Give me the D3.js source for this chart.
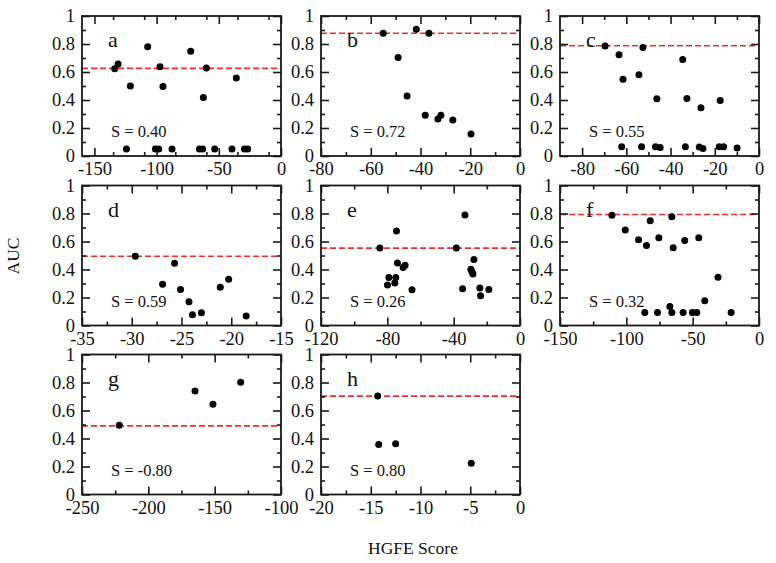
<!DOCTYPE html>
<html>
<head>
<meta charset="utf-8">
<script src="https://cdn.jsdelivr.net/npm/d3@7/dist/d3.min.js"></script>
<style>
  html, body { margin: 0; padding: 0; background: #fff; }
  svg { display: block; }
  text { font-family: "Liberation Serif", "DejaVu Serif", serif; fill: #111; }
</style>
</head>
<body>
<svg id="chart" width="776" height="563"></svg>
<script>
// ---------------- data ----------------
const panelIds = ["a", "b", "c", "d", "e", "f", "g", "h"];
const spearmanLabels = ["S = 0.40", "S = 0.72", "S = 0.55", "S = 0.59", "S = 0.26", "S = 0.32", "S = -0.80", "S = 0.80"];
const referenceAUC = [0.626, 0.877, 0.787, 0.495, 0.553, 0.793, 0.49, 0.703];
const xDomains = [[-160, 0], [-80, 0], [-90, 0], [-35, -15], [-120, 0], [-150, 0], [-250, -100], [-20, 0]];
const xMajorTicks = [
  [-150, -100, -50, 0],
  [-80, -60, -40, -20, 0],
  [-80, -60, -40, -20, 0],
  [-35, -30, -25, -20, -15],
  [-120, -80, -40, 0],
  [-150, -100, -50, 0],
  [-250, -200, -150, -100],
  [-20, -15, -10, -5, 0]
];
const xMinorStep = [25, 10, 10, 2.5, 20, 25, 25, 2.5];
const yTicks = [0, 0.2, 0.4, 0.6, 0.8, 1];
const yTickLabels = ["0", "0.2", "0.4", "0.6", "0.8", "1"];
const yMinorTicks = [0.1, 0.3, 0.5, 0.7, 0.9];

const hgfeA = [-133.7, -131, -121.1, -124.3, -107.2, -101, -98.3, -97.3, -94.9, -87.6, -72.6, -65.6, -63, -62.4, -60, -53.3, -39.4, -35.9, -29.4, -26.8];
const aucA  = [0.624, 0.657, 0.50, 0.05, 0.78, 0.05, 0.05, 0.638, 0.497, 0.05, 0.749, 0.05, 0.05, 0.418, 0.629, 0.05, 0.05, 0.558, 0.05, 0.05];

const hgfeB = [-55, -41.7, -36.6, -49, -45.4, -38.1, -33, -31.8, -27, -19.7];
const aucB  = [0.877, 0.905, 0.877, 0.704, 0.428, 0.291, 0.265, 0.291, 0.258, 0.158];

const hgfeC = [-69.6, -63.3, -61.5, -62.1, -54.3, -52.5, -53.1, -46.2, -46.8, -44.7, -34.5, -32.6, -33.3, -27, -26.25, -25.35, -17.55, -18, -16, -9.9];
const aucC  = [0.785, 0.723, 0.548, 0.066, 0.58, 0.775, 0.066, 0.409, 0.066, 0.061, 0.69, 0.411, 0.066, 0.064, 0.345, 0.054, 0.397, 0.066, 0.066, 0.057];

const hgfeD = [-29.64, -26.9, -25.7, -25.1, -24.25, -23.9, -23.0, -21.1, -20.26, -18.5];
const aucD  = [0.495, 0.294, 0.445, 0.258, 0.17, 0.077, 0.091, 0.273, 0.33, 0.067];

const hgfeE = [-84.5, -79.9, -79.1, -75.5, -74.9, -74.5, -73.9, -70.5, -69.3, -65.1, -38.4, -34.6, -33.2, -27.8, -29.6, -29, -28.4, -24.2, -23.8, -18.8];
const aucE  = [0.553, 0.29, 0.342, 0.304, 0.342, 0.675, 0.447, 0.414, 0.431, 0.256, 0.553, 0.263, 0.79, 0.471, 0.402, 0.385, 0.368, 0.268, 0.213, 0.258];

const hgfeF = [-110.9, -100.8, -90.8, -84.8, -86.1, -82, -76.5, -75.5, -67.2, -65.7, -65.7, -64.7, -57.2, -56, -50.2, -46.9, -45.4, -40.9, -30.9, -21];
const aucF  = [0.788, 0.683, 0.612, 0.571, 0.093, 0.748, 0.093, 0.626, 0.136, 0.776, 0.093, 0.555, 0.093, 0.607, 0.093, 0.093, 0.626, 0.176, 0.345, 0.093];

const hgfeG = [-221.9, -164.8, -151.3, -130.4];
const aucG  = [0.494, 0.74, 0.644, 0.802];

const hgfeH = [-14.3, -14.2, -12.5, -4.9];
const aucH  = [0.704, 0.358, 0.363, 0.224];

const hgfeSeries = [hgfeA, hgfeB, hgfeC, hgfeD, hgfeE, hgfeF, hgfeG, hgfeH];
const aucSeries  = [aucA, aucB, aucC, aucD, aucE, aucF, aucG, aucH];

// ---------------- layout ----------------
const colLeft = [82, 321, 560];
const rowTop = [16, 185.5, 354.5];
const W = 199, H = 140;
const majorLen = 8, minorLen = 4;
const serif = '"Liberation Serif", "DejaVu Serif", serif';

const svg = d3.select("#chart");

panelIds.forEach((id, i) => {
  const col = i % 3, row = Math.floor(i / 3);
  const g = svg.append("g").attr("transform", `translate(${colLeft[col]},${rowTop[row]})`);
  const x = d3.scaleLinear().domain(xDomains[i]).range([0, W]);
  const y = d3.scaleLinear().domain([0, 1]).range([H, 0]);

  const dom = xDomains[i];
  const step = xMinorStep[i];
  const xMinor = d3.range(dom[0], dom[1] + step / 2, step)
    .filter(v => !xMajorTicks[i].some(m => Math.abs(m - v) < 1e-9) && v > dom[0] + 1e-9 && v < dom[1] - 1e-9);

  // red dashed reference line
  g.append("line")
    .attr("x1", 0).attr("x2", W)
    .attr("y1", y(referenceAUC[i])).attr("y2", y(referenceAUC[i]))
    .attr("stroke", "#f02e2e").attr("stroke-width", 1.6)
    .attr("stroke-dasharray", "6,3");

  const styleAxis = sel => {
    sel.attr("font-family", serif).attr("font-size", 18.5);
    sel.select(".domain").remove();
    sel.selectAll(".tick line").attr("stroke", "#1a1a1a").attr("stroke-width", 1.6);
    sel.selectAll(".tick text").style("font-family", serif).style("font-size", "18.5px").attr("fill", "#111");
  };

  // bottom axis with labels
  g.append("g").attr("transform", `translate(0,${H})`)
    .call(d3.axisBottom(x).tickValues(xMajorTicks[i]).tickFormat(d => String(d)).tickSizeInner(-majorLen).tickSizeOuter(0).tickPadding(6))
    .call(styleAxis);
  g.append("g").attr("transform", `translate(0,${H})`)
    .call(d3.axisBottom(x).tickValues(xMinor).tickFormat("").tickSizeInner(-minorLen).tickSizeOuter(0))
    .call(styleAxis);
  // top axis
  g.append("g")
    .call(d3.axisTop(x).tickValues(xMajorTicks[i]).tickFormat("").tickSizeInner(-majorLen).tickSizeOuter(0))
    .call(styleAxis);
  g.append("g")
    .call(d3.axisTop(x).tickValues(xMinor).tickFormat("").tickSizeInner(-minorLen).tickSizeOuter(0))
    .call(styleAxis);
  // left axis with labels
  g.append("g")
    .call(d3.axisLeft(y).tickValues(yTicks).tickFormat((d, k) => yTickLabels[k]).tickSizeInner(-majorLen).tickSizeOuter(0).tickPadding(7))
    .call(styleAxis);
  g.append("g")
    .call(d3.axisLeft(y).tickValues(yMinorTicks).tickFormat("").tickSizeInner(-minorLen).tickSizeOuter(0))
    .call(styleAxis);
  // right axis
  g.append("g").attr("transform", `translate(${W},0)`)
    .call(d3.axisRight(y).tickValues(yTicks).tickFormat("").tickSizeInner(-majorLen).tickSizeOuter(0))
    .call(styleAxis);
  g.append("g").attr("transform", `translate(${W},0)`)
    .call(d3.axisRight(y).tickValues(yMinorTicks).tickFormat("").tickSizeInner(-minorLen).tickSizeOuter(0))
    .call(styleAxis);

  // frame
  g.append("rect").attr("x", 0).attr("y", 0).attr("width", W).attr("height", H)
    .attr("fill", "none").attr("stroke", "#1a1a1a").attr("stroke-width", 1.8);

  // points
  g.selectAll("circle.pt")
    .data(hgfeSeries[i].map((v, k) => [v, aucSeries[i][k]]))
    .join("circle")
    .attr("class", "pt")
    .attr("cx", d => x(d[0]))
    .attr("cy", d => y(d[1]))
    .attr("r", 3.5)
    .attr("fill", "#000");

  // panel letter
  g.append("text").attr("x", 26).attr("y", 31)
    .style("font-size", "22px").text(id);
  // spearman label
  g.append("text").attr("x", 29).attr("y", H - 19)
    .style("font-size", "16.5px").text(spearmanLabels[i]);
});

// axis titles
svg.append("text")
  .attr("transform", "translate(19,256) rotate(-90)")
  .attr("text-anchor", "middle")
  .style("font-size", "17.5px")
  .text("AUC");

svg.append("text")
  .attr("x", 413).attr("y", 554)
  .attr("text-anchor", "middle")
  .style("font-size", "17.5px")
  .text("HGFE Score");
</script>
</body>
</html>
